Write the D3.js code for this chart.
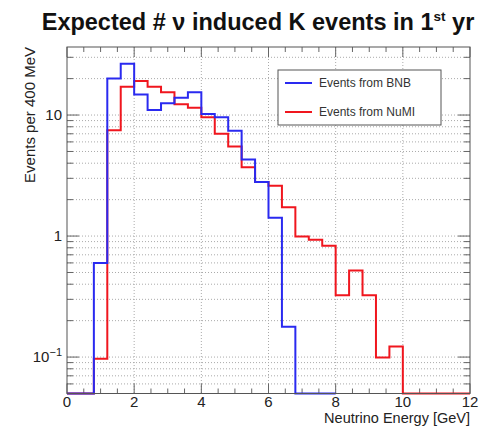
<!DOCTYPE html>
<head>
  <meta charset="utf-8">
  <script src="https://d3js.org/d3.v7.min.js"></script>
  <style>
    body { margin:0; background:#fff; }
    text { font-family: "Liberation Sans", Arial, sans-serif; fill:#222; }
  </style>
</head>
<body>
<script>
// bin width 0.4 GeV, BNB histogram spans 0-8 GeV, NuMI 0-12 GeV
var binWidth = 0.4;
var bnb  = [0, 0, 0.6, 20, 26.5, 14.8, 11.0, 12.5, 13.9, 15.4, 10.2, 9.6, 7.4, 4.3, 2.8, 1.42, 0.178, 0, 0, 0];
var numi = [0, 0, 0.097, 7.5, 17.1, 19.1, 17.1, 15.4, 12.3, 11.5, 9.6, 7.0, 5.5, 3.7, 2.8, 2.6, 1.73, 0.99, 0.93, 0.83,
            0.325, 0.52, 0.325, 0.099, 0.122, 0, 0, 0, 0, 0];
var xTicks = [0, 2, 4, 6, 8, 10, 12];
var seriesNames = ["Events from BNB", "Events from NuMI"];

var width = 487, height = 426;
var mLeft = 67, mRight = 470, mTop = 47, mBottom = 393.5;

var svg = d3.select("body").append("svg")
  .attr("width", width).attr("height", height);

var x = d3.scaleLinear().domain([0, 12]).range([mLeft, mRight]);
var y = d3.scaleLog().domain([0.05, 36.5]).range([mBottom, mTop]);

// grid
var yt = y.ticks().filter(function(d) { return d > 0.05 && d < 36.5; });
svg.append("g").selectAll("line").data(yt).enter().append("line")
  .attr("x1", mLeft).attr("x2", mRight)
  .attr("y1", function(d) { return y(d); }).attr("y2", function(d) { return y(d); })
  .style("stroke", "#aaa").style("stroke-dasharray", "1,2").style("stroke-width", 1);
svg.append("g").selectAll("line").data(xTicks.slice(1, -1)).enter().append("line")
  .attr("y1", mTop).attr("y2", mBottom)
  .attr("x1", function(d) { return x(d); }).attr("x2", function(d) { return x(d); })
  .style("stroke", "#aaa").style("stroke-dasharray", "1,2").style("stroke-width", 1);

// ticks
var tickCol = "#666";
var isMajor = function(d) { return Math.abs(Math.log10(d) - Math.round(Math.log10(d))) < 1e-6; };
var ty = svg.append("g");
yt.forEach(function(d) {
  var len = isMajor(d) ? 12 : 6;
  ty.append("line").attr("x1", mLeft).attr("x2", mLeft + len).attr("y1", y(d)).attr("y2", y(d))
    .style("stroke", tickCol);
  ty.append("line").attr("x1", mRight).attr("x2", mRight - len).attr("y1", y(d)).attr("y2", y(d))
    .style("stroke", tickCol);
});
var xMinor = d3.range(0, 12.01, 0.5);
xMinor.forEach(function(d) {
  var len = (d % 2 === 0) ? 10 : 5;
  ty.append("line").attr("x1", x(d)).attr("x2", x(d)).attr("y1", mBottom).attr("y2", mBottom - len)
    .style("stroke", tickCol);
  ty.append("line").attr("x1", x(d)).attr("x2", x(d)).attr("y1", mTop).attr("y2", mTop + len)
    .style("stroke", tickCol);
});

// histograms
function stepPoints(vals) {
  var pts = [];
  vals.forEach(function(v, i) {
    pts.push([i * binWidth, v]);
    pts.push([(i + 1) * binWidth, v]);
  });
  return pts;
}
var line = d3.line()
  .x(function(d) { return x(d[0]); })
  .y(function(d) { return d[1] > 0 ? y(d[1]) : mBottom; });

svg.append("path").attr("d", line(stepPoints(numi)))
  .style("fill", "none").style("stroke", "#f0161e").style("stroke-width", 2);
svg.append("path").attr("d", line(stepPoints(bnb)))
  .style("fill", "none").style("stroke", "#2a2af0").style("stroke-width", 2);

// frame
svg.append("rect").attr("x", mLeft).attr("y", mTop).attr("width", mRight - mLeft).attr("height", mBottom - mTop)
  .style("fill", "none").style("stroke", "#555").style("stroke-width", 1);

// axis labels
svg.append("g").selectAll("text").data(xTicks).enter().append("text")
  .attr("x", function(d) { return x(d); }).attr("y", 406.5)
  .attr("text-anchor", "middle").style("font-size", "15px")
  .text(function(d) { return d; });

var yl = svg.append("g");
yl.append("text").attr("x", 62).attr("y", y(10) + 5).attr("text-anchor", "end")
  .style("font-size", "15px").text("10");
yl.append("text").attr("x", 62).attr("y", y(1) + 5).attr("text-anchor", "end")
  .style("font-size", "15px").text("1");
var tm = yl.append("text").attr("x", 62).attr("y", y(0.1) + 5).attr("text-anchor", "end")
  .style("font-size", "15px");
tm.append("tspan").text("10");
tm.append("tspan").attr("dy", -6).style("font-size", "11px").text("\u22121");

svg.append("text").attr("x", mRight).attr("y", 423).attr("text-anchor", "end")
  .style("font-size", "14.5px").text("Neutrino Energy [GeV]");
svg.append("text").attr("transform", "translate(35," + mTop + ") rotate(-90)")
  .attr("text-anchor", "end").style("font-size", "15px").text("Events per 400 MeV");

// title
var title = svg.append("text").attr("x", 258).attr("y", 30).attr("text-anchor", "middle")
  .style("font-size", "23.5px").style("font-weight", "bold").style("fill", "#111");
title.append("tspan").text("Expected # \u03bd induced K events in 1");
title.append("tspan").attr("dy", -9).style("font-size", "13.5px").text("st");
title.append("tspan").attr("dy", 9).text(" yr");

// legend
var lg = svg.append("g");
lg.append("rect").attr("x", 278).attr("y", 70).attr("width", 163).attr("height", 55)
  .style("fill", "#fff").style("stroke", "#555");
var legCols = ["#2a2af0", "#f0161e"];
seriesNames.forEach(function(n, i) {
  var yy = 83 + i * 29;
  lg.append("line").attr("x1", 285).attr("x2", 312).attr("y1", yy).attr("y2", yy)
    .style("stroke", legCols[i]).style("stroke-width", 2);
  lg.append("text").attr("x", 319).attr("y", yy + 4).style("font-size", "12px")
    .style("fill", "#333").text(n);
});
</script>
</body>
